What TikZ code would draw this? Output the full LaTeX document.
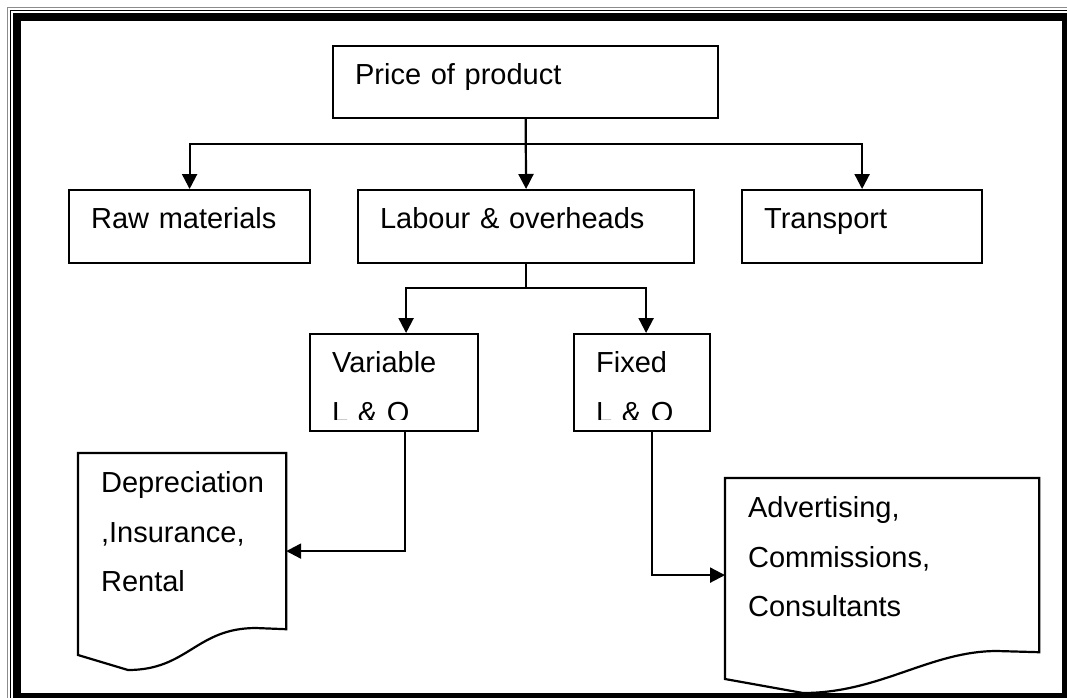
\documentclass[tikz,border=0pt]{standalone}
\usepackage{fontspec}
\setmainfont{Liberation Sans}
\usetikzlibrary{arrows.meta}
\tikzstyle{chart}=[x=1pt, y=-1pt, line width=2.2pt,
                   >={Triangle[width=15pt,length=15pt]},
                   font=\fontsize{29}{49.5}\selectfont]
\tikzstyle{box}=[draw, anchor=north west, align=left,
                 inner xsep=22pt, inner ysep=0pt, text height=38.8pt]
\tikzstyle{sheet}=[box, draw=none]
\tikzstyle{cut}=[fill=white, draw=none]

\begin{document}
\begin{tikzpicture}[chart]
  \useasboundingbox (0,0) rectangle (1067,697);
  \draw[line width=1pt, black!45] (7.3,7.3) rectangle (1075.4,706.4);
  \draw[line width=1.5pt] (10.7,10.7) rectangle (1072,703);
  \draw[line width=8pt] (16.7,17.4) rectangle (1066,696.7);
  \node[box, text width=341pt, text depth=33.2pt] (price) at (332,45) {Price of product};
  \node[box, text width=197pt, text depth=34.2pt] (raw) at (68,189) {Raw materials};
  \node[box, text width=292pt, text depth=34.2pt] (labour) at (357,189) {Labour \& overheads};
  \node[box, text width=196pt, text depth=34.2pt] (transport) at (741,189) {Transport};
  \node[box, text width=124pt, text depth=58.2pt] (var) at (309,333) {Variable\\L \& O};
  \node[box, text width=92pt, text depth=58.2pt] (fixed) at (573,333) {Fixed\\L \& O};
  \path[cut] ([xshift=2pt,yshift=2pt]var.south west) rectangle ([xshift=-2pt,yshift=12pt]var.south east);
  \path[cut] ([xshift=2pt,yshift=2pt]fixed.south west) rectangle ([xshift=-2pt,yshift=12pt]fixed.south east);
  \node[sheet, text width=162pt, text depth=135.2pt] (dep) at (78,453) {Depreciation\\,Insurance,\\Rental};
  \node[sheet, text width=268pt, text depth=133.2pt] (adv) at (725,478) {Advertising,\\Commissions,\\Consultants};
  \draw (dep.north west) -- (dep.north east) -- (dep.south east) -- (256,628)
    .. controls (196,628) and (188,670) .. (128,670) -- (78,655) -- cycle;
  \draw (adv.north west) -- (adv.north east) -- (adv.south east) -- (997,651)
    .. controls (930,651) and (880,693) .. (803,693) -- (725,679) -- cycle;
  \draw[->] (price.south) -- (labour.north);
  \draw[->] (price.south) -- ++(0,25) -| (raw.north);
  \draw[->] (price.south) -- ++(0,25) -| (transport.north);
  \draw[->] (labour.south) -- ++(0,24) -| ([xshift=12pt]var.north);
  \draw[->] (labour.south) -- ++(0,24) -| ([xshift=4pt]fixed.north);
  \draw[->] ([xshift=11pt]var.south) |- ([yshift=-10pt]dep.east);
  \draw[->] ([xshift=10pt]fixed.south) |- ([yshift=-10pt]adv.west);
\end{tikzpicture}
\end{document}
